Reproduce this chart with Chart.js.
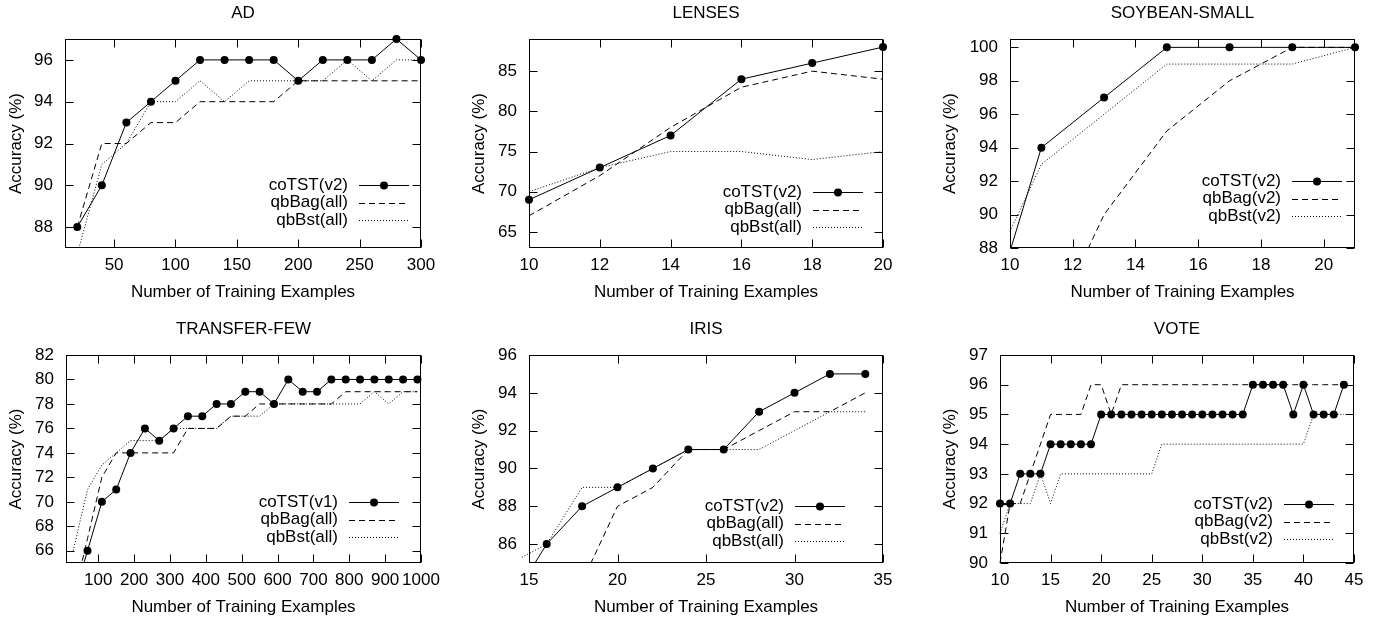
<!DOCTYPE html>
<html>
<head>
<meta charset="utf-8">
<script src="https://cdn.jsdelivr.net/npm/chart.js@4.4.0/dist/chart.umd.min.js"></script>
<style>
  body { margin: 0; background: #fff; width: 1377px; height: 618px; position: relative; overflow: hidden; }
  canvas { position: absolute; }
</style>
</head>
<body>
<script>
// ---- data ----

// AD
const adX = [20, 40, 60, 80, 100, 120, 140, 160, 180, 200, 220, 240, 260, 280, 300];
const adCoTST = [88, 90, 93, 94, 95, 96, 96, 96, 96, 95, 96, 96, 96, 97, 96];
const adQbBag = [88, 92, 92, 93, 93, 94, 94, 94, 94, 95, 95, 95, 95, 95, 95];
const adQbBst = [86.7, 91, 92, 94, 94, 95, 94, 95, 95, 95, 95, 96, 95, 96, 96];
const adXTicks = [50, 100, 150, 200, 250, 300];
const adYTicks = [88, 90, 92, 94, 96];

// LENSES
const lensesX = [10, 12, 14, 16, 18, 20];
const lensesCoTST = [69, 73, 77, 84, 86, 88];
const lensesQbBag = [67, 72, 78, 83, 85, 84];
const lensesQbBst = [70, 73, 75, 75, 74, 75];
const lensesXTicks = [10, 12, 14, 16, 18, 20];
const lensesYTicks = [65, 70, 75, 80, 85];

// SOYBEAN-SMALL
const soyX = [10, 11, 13, 15, 17, 19, 21];
const soyCoTST = [87.8, 94, 97, 100, 100, 100, 100];
const soyBagX = [11, 13, 15, 17, 19, 21];
const soyQbBag = [82, 90, 95, 98, 100, 100];
const soyQbBst = [89, 93, 96, 99, 99, 99, 100];
const soyXTicks = [10, 12, 14, 16, 18, 20];
const soyYTicks = [88, 90, 92, 94, 96, 98, 100];

// TRANSFER-FEW
const trX = [30, 70, 110, 150, 190, 230, 270, 310, 350, 390, 430, 470, 510, 550, 590, 630, 670, 710, 750, 790, 830, 870, 910, 950, 990];
const trCoTST = [62, 66, 70, 71, 74, 76, 75, 76, 77, 77, 78, 78, 79, 79, 78, 80, 79, 79, 80, 80, 80, 80, 80, 80, 80];
const trQbBag = [62, 67, 72, 74, 74, 74, 74, 74, 76, 76, 76, 77, 77, 78, 78, 78, 78, 78, 78, 79, 79, 79, 79, 79, 79];
const trQbBst = [66, 71, 73, 74, 75, 75, 75, 76, 76, 76, 76, 77, 77, 77, 78, 78, 78, 78, 78, 78, 78, 79, 78, 79, 79];
const trXTicks = [100, 200, 300, 400, 500, 600, 700, 800, 900, 1000];
const trYTicks = [66, 68, 70, 72, 74, 76, 78, 80, 82];

// IRIS
const irisX = [14, 16, 18, 20, 22, 24, 26, 28, 30, 32, 34];
const irisCoTST = [83, 86, 88, 89, 90, 91, 91, 93, 94, 95, 95];
const irisBagX = [18, 20, 22, 24, 26, 28, 30, 32, 34];
const irisQbBag = [84, 88, 89, 91, 91, 92, 93, 93, 94];
const irisQbBst = [85, 86, 89, 89, 90, 91, 91, 91, 92, 93, 93];
const irisXTicks = [15, 20, 25, 30, 35];
const irisYTicks = [86, 88, 90, 92, 94, 96];

// VOTE
const voteX = [10, 11, 12, 13, 14, 15, 16, 17, 18, 19, 20, 21, 22, 23, 24, 25, 26, 27,
  28, 29, 30, 31, 32, 33, 34, 35, 36, 37, 38, 39, 40, 41, 42, 43, 44];
const voteCoTST = [92, 92, 93, 93, 93, 94, 94, 94, 94, 94,
  95, 95, 95, 95, 95, 95, 95, 95, 95, 95, 95, 95, 95, 95, 95,
  96, 96, 96, 96, 95, 96, 95, 95, 95, 96];
const voteQbBag = [90, 92, 92, 93, 94, 95, 95, 95, 95, 96, 96, 95,
  96, 96, 96, 96, 96, 96, 96, 96, 96, 96, 96, 96, 96, 96, 96, 96, 96, 96, 96, 96, 96, 96, 96];
const voteQbBst = [91, 92, 92, 92, 93, 92, 93,
  93, 93, 93, 93, 93, 93, 93, 93, 93,
  94, 94, 94, 94, 94, 94, 94, 94, 94, 94, 94, 94, 94, 94, 94,
  95, 95, 95, 95];
const voteXTicks = [10, 15, 20, 25, 30, 35, 40, 45];
const voteYTicks = [90, 91, 92, 93, 94, 95, 96, 97];

// ---- panel layout ----
const FONT = '17px "Liberation Sans", Arial, sans-serif';
const PANEL_W = 459, PANEL_H = 309;
Chart.defaults.color = '#000';
Chart.defaults.font.family = '"Liberation Sans", Arial, sans-serif';
Chart.defaults.font.size = 17;

const panels = [
  { title: 'AD', col: 0, row: 0, plot: [65, 39, 421, 248],
    xMin: 10, xMax: 300, yMin: 87, yMax: 97, xTicks: adXTicks, yTicks: adYTicks,
    yTitleGap: 49, legendRight: 12, legendBottom: 28,
    series: [['coTST(v2)', adX, adCoTST], ['qbBag(all)', adX, adQbBag], ['qbBst(all)', adX, adQbBst]] },
  { title: 'LENSES', col: 1, row: 0, plot: [529, 39, 883, 248],
    xMin: 10, xMax: 20, yMin: 63, yMax: 89, xTicks: lensesXTicks, yTicks: lensesYTicks,
    yTitleGap: 50, legendRight: 20, legendBottom: 21,
    series: [['coTST(v2)', lensesX, lensesCoTST], ['qbBag(all)', lensesX, lensesQbBag], ['qbBst(all)', lensesX, lensesQbBst]] },
  { title: 'SOYBEAN-SMALL', col: 2, row: 0, plot: [1010, 39, 1355, 248],
    xMin: 10, xMax: 21, yMin: 88, yMax: 100.5, xTicks: soyXTicks, yTicks: soyYTicks,
    yTitleGap: 60, legendRight: 13, legendBottom: 32,
    series: [['coTST(v2)', soyX, soyCoTST], ['qbBag(v2)', soyBagX, soyQbBag], ['qbBst(v2)', soyX, soyQbBst]] },
  { title: 'TRANSFER-FEW', col: 0, row: 1, plot: [66, 355, 421, 563],
    xMin: 10, xMax: 1000, yMin: 65, yMax: 82, xTicks: trXTicks, yTicks: trYTicks,
    yTitleGap: 50, legendRight: 22, legendBottom: 26,
    series: [['coTST(v1)', trX, trCoTST], ['qbBag(all)', trX, trQbBag], ['qbBst(all)', trX, trQbBst]] },
  { title: 'IRIS', col: 1, row: 1, plot: [529, 355, 883, 563],
    xMin: 15, xMax: 35, yMin: 85, yMax: 96, xTicks: irisXTicks, yTicks: irisYTicks,
    yTitleGap: 50, legendRight: 38, legendBottom: 22,
    series: [['coTST(v2)', irisX, irisCoTST], ['qbBag(all)', irisBagX, irisQbBag], ['qbBst(all)', irisX, irisQbBst]] },
  { title: 'VOTE', col: 2, row: 1, plot: [1000, 355, 1354, 563],
    xMin: 10, xMax: 45, yMin: 90, yMax: 97, xTicks: voteXTicks, yTicks: voteYTicks,
    yTitleGap: 50, legendRight: 20, legendBottom: 24,
    series: [['coTST(v2)', voteX, voteCoTST], ['qbBag(v2)', voteX, voteQbBag], ['qbBst(v2)', voteX, voteQbBst]] }
];

// line styles: solid + dots, dashed, dotted
const seriesStyles = [
  { borderDash: [], marker: true },
  { borderDash: [6, 4], marker: false },
  { borderDash: [1, 2], marker: false }
];

// frame, inward ticks on all four sides, titles and gnuplot-like legend
const gnuplotDecor = {
  id: 'gnuplotDecor',
  beforeDatasetsDraw(chart) {
    const { ctx, chartArea: a, scales } = chart;
    const L = Math.round(a.left) + 0.5, R = Math.round(a.right) - 0.5;
    const T = Math.round(a.top) + 0.5, B = Math.round(a.bottom) - 0.5;
    ctx.save();
    ctx.strokeStyle = '#000';
    ctx.lineWidth = 1;
    ctx.setLineDash([]);
    ctx.beginPath();
    scales.y.ticks.forEach(t => {
      const py = Math.round(scales.y.getPixelForValue(t.value)) + 0.5;
      ctx.moveTo(L, py); ctx.lineTo(L + 8, py);
      ctx.moveTo(R, py); ctx.lineTo(R - 8, py);
    });
    scales.x.ticks.forEach(t => {
      const px = Math.round(scales.x.getPixelForValue(t.value)) + 0.5;
      ctx.moveTo(px, B); ctx.lineTo(px, B - 8);
      ctx.moveTo(px, T); ctx.lineTo(px, T + 8);
    });
    ctx.stroke();
    ctx.strokeRect(L, T, R - L, B - T);
    ctx.restore();
  },
  afterDraw(chart) {
    const p = chart.options.plugins.gnuplotDecor;
    const { ctx, chartArea: a } = chart;
    const midX = (a.left + a.right) / 2, midY = (a.top + a.bottom) / 2;
    ctx.save();
    ctx.fillStyle = '#000';
    ctx.font = FONT;
    ctx.textBaseline = 'middle';
    ctx.textAlign = 'center';
    ctx.fillText(p.title, midX, a.top - 26);
    ctx.fillText('Number of Training Examples', midX, a.bottom + 44);
    ctx.save();
    ctx.translate(a.left - p.yTitleGap, midY);
    ctx.rotate(-Math.PI / 2);
    ctx.fillText('Accuracy (%)', 0, 0);
    ctx.restore();

    // legend, bottom right inside the plot
    const n = chart.data.datasets.length;
    const sx2 = a.right - p.legendRight, sx1 = sx2 - 50;
    chart.data.datasets.forEach((ds, k) => {
      const y = a.bottom - p.legendBottom - (n - 1 - k) * 17.4;
      ctx.textAlign = 'right';
      ctx.fillText(ds.label, sx1 - 11, y);
      ctx.strokeStyle = '#000';
      ctx.lineWidth = 1;
      ctx.setLineDash(ds.borderDash);
      ctx.beginPath();
      ctx.moveTo(sx1, Math.round(y) + 0.5);
      ctx.lineTo(sx2, Math.round(y) + 0.5);
      ctx.stroke();
      ctx.setLineDash([]);
      if (seriesStyles[k].marker) {
        ctx.beginPath();
        ctx.arc((sx1 + sx2) / 2, Math.round(y) + 0.5, 4, 0, Math.PI * 2);
        ctx.fill();
      }
    });
    ctx.restore();
  }
};

panels.forEach(p => {
  const cx = p.col * PANEL_W, cy = p.row * PANEL_H;
  const [L, T, R, B] = p.plot;
  const canvas = document.createElement('canvas');
  canvas.width = PANEL_W;
  canvas.height = PANEL_H;
  canvas.style.left = cx + 'px';
  canvas.style.top = cy + 'px';
  document.body.appendChild(canvas);

  const datasets = p.series.map(([name, xs, ys], k) => ({
    label: name,
    data: xs.map((x, j) => ({ x: x, y: ys[j] })),
    borderColor: '#000',
    backgroundColor: '#000',
    borderWidth: 1,
    borderDash: seriesStyles[k].borderDash,
    pointRadius: seriesStyles[k].marker ? (c => (c.raw && c.raw.y < p.yMin ? 0 : 4)) : 0,
    pointBorderWidth: 0,
    pointBackgroundColor: '#000',
    tension: 0,
    fill: false,
    clip: { left: 8, top: 8, right: 8, bottom: 0 }
  }));

  new Chart(canvas, {
    type: 'line',
    data: { datasets: datasets },
    options: {
      responsive: false,
      animation: false,
      events: [],
      layout: { padding: { left: 0, top: T - cy, right: cx + PANEL_W - R, bottom: 0 } },
      plugins: {
        legend: { display: false },
        tooltip: { enabled: false },
        gnuplotDecor: { title: p.title, yTitleGap: p.yTitleGap, legendRight: p.legendRight, legendBottom: p.legendBottom }
      },
      scales: {
        x: {
          type: 'linear', min: p.xMin, max: p.xMax,
          grid: { display: false, drawTicks: false },
          border: { display: false },
          ticks: { autoSkip: false, maxRotation: 0, padding: 7, font: { size: 17 }, callback: v => String(v) },
          afterBuildTicks: s => { s.ticks = p.xTicks.map(v => ({ value: v })); },
          afterFit: s => { s.height = cy + PANEL_H - B; }
        },
        y: {
          type: 'linear', min: p.yMin, max: p.yMax,
          grid: { display: false, drawTicks: false },
          border: { display: false },
          ticks: { autoSkip: false, padding: 12, font: { size: 17 }, callback: v => String(v) },
          afterBuildTicks: s => { s.ticks = p.yTicks.map(v => ({ value: v })); },
          afterFit: s => { s.width = L - cx; }
        }
      }
    },
    plugins: [gnuplotDecor]
  });
});
</script>
</body>
</html>
